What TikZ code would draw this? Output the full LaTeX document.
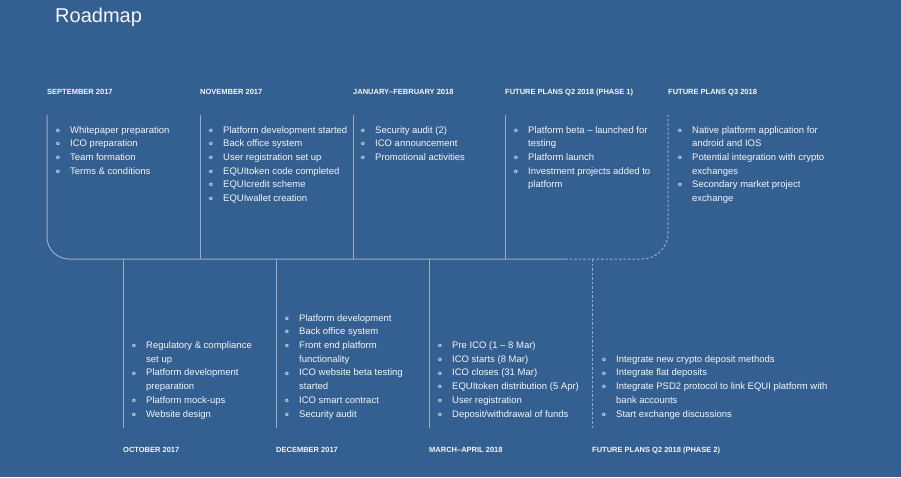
\documentclass[tikz,border=0pt]{standalone}
\usepackage{fontspec}
\setmainfont{Liberation Sans}
\definecolor{roadblue}{RGB}{52,95,145}
\definecolor{roadline}{RGB}{160,170,186}
\definecolor{roadtext}{RGB}{246,246,246}
\newcommand{\bmark}{\makebox[14pt][l]{\raisebox{0.9pt}{\fontsize{6}{6}\selectfont\bfseries o}}}
\newcommand{\bcont}{\hspace*{14pt}}
\tikzset{
  month/.style={anchor=base west, inner sep=0pt, text=roadtext,
    font=\fontsize{7.5}{8}\selectfont\bfseries},
  items/.style={anchor=base west, inner sep=0pt, align=left, text=roadtext,
    font=\fontsize{9.5}{13.7}\selectfont},
  spine/.style={draw=roadline, line width=1pt},
  future/.style={spine, dash pattern=on 2.5pt off 2pt},
}
\begin{document}
\begin{tikzpicture}[x=1pt,y=-1pt]
  \useasboundingbox (0,0) rectangle (901,477);
  \fill[roadblue] (0,0) rectangle (901,477);
  \node[anchor=base west, inner sep=0pt, text=roadtext,
    font=\fontsize{20}{24}\selectfont] (title) at (55,22) {Roadmap};
  %timeline
  \coordinate (septop) at (47,115);
  \coordinate (novtop) at (200,115);
  \coordinate (jantop) at (353,115);
  \coordinate (phatop) at (505,115);
  \coordinate (qthreetop) at (668,115);
  \coordinate (octbottom) at (123,428);
  \coordinate (decbottom) at (276,428);
  \coordinate (marbottom) at (429,428);
  \coordinate (phbbottom) at (592,428);
  \coordinate (solidend) at (565,259);
  \draw[spine, rounded corners=22pt] (septop) |- (solidend);
  \draw[future, rounded corners=26pt] (solidend) -| (qthreetop);
  \foreach \name in {nov,jan,pha}
      \draw[spine] (\name top) -- (\name top |- solidend);
  \foreach \name in {oct,dec,mar}
      \draw[spine] (\name bottom |- solidend) -- (\name bottom);
  \draw[future] (phbbottom |- solidend) -- (phbbottom);
  %headers
  \node[month] (sep) at (47,94) {SEPTEMBER 2017};
  \node[month] (nov) at (200,94) {NOVEMBER 2017};
  \node[month] (jan) at (353,94) {JANUARY–FEBRUARY 2018};
  \node[month] (pha) at (505,94) {FUTURE PLANS Q2 2018 (PHASE 1)};
  \node[month] (qthree) at (668,94) {FUTURE PLANS Q3 2018};
  \node[month] (oct) at (123,452) {OCTOBER 2017};
  \node[month] (dec) at (276,452) {DECEMBER 2017};
  \node[month] (mar) at (429,452) {MARCH–APRIL 2018};
  \node[month] (phb) at (592,452) {FUTURE PLANS Q2 2018 (PHASE 2)};
  %items above (base = last line)
  \node[items] (sep list) at (56,174.1) {\bmark Whitepaper preparation\\
    \bmark ICO preparation\\ \bmark Team formation\\ \bmark Terms \& conditions};
  \node[items] (nov list) at (209,201.5) {\bmark Platform development started\\
    \bmark Back office system\\ \bmark User registration set up\\
    \bmark EQUItoken code completed\\ \bmark EQUIcredit scheme\\
    \bmark EQUIwallet creation};
  \node[items] (jan list) at (361,160.4) {\bmark Security audit (2)\\
    \bmark ICO announcement\\ \bmark Promotional activities};
  \node[items] (pha list) at (514,187.8) {\bmark Platform beta – launched for\\
    \bcont testing\\ \bmark Platform launch\\
    \bmark Investment projects added to\\ \bcont platform};
  \node[items] (qthree list) at (678,201.5) {\bmark Native platform application for\\
    \bcont android and IOS\\ \bmark Potential integration with crypto\\
    \bcont exchanges\\ \bmark Secondary market project\\ \bcont exchange};
  %items below
  \node[items] (oct list) at (132,417) {\bmark Regulatory \& compliance\\
    \bcont set up\\ \bmark Platform development\\ \bcont preparation\\
    \bmark Platform mock-ups\\ \bmark Website design};
  \node[items] (dec list) at (285,417) {\bmark Platform development\\
    \bmark Back office system\\ \bmark Front end platform\\
    \bcont functionality\\ \bmark ICO website beta testing\\
    \bcont started\\ \bmark ICO smart contract\\ \bmark Security audit};
  \node[items] (mar list) at (438,417) {\bmark Pre ICO (1 – 8 Mar)\\
    \bmark ICO starts (8 Mar)\\ \bmark ICO closes (31 Mar)\\
    \bmark EQUItoken distribution (5 Apr)\\ \bmark User registration\\
    \bmark Deposit/withdrawal of funds};
  \node[items] (phb list) at (602,417) {\bmark Integrate new crypto deposit methods\\
    \bmark Integrate flat deposits\\
    \bmark Integrate PSD2 protocol to link EQUI platform with\\
    \bcont bank accounts\\ \bmark Start exchange discussions};
\end{tikzpicture}
\end{document}
